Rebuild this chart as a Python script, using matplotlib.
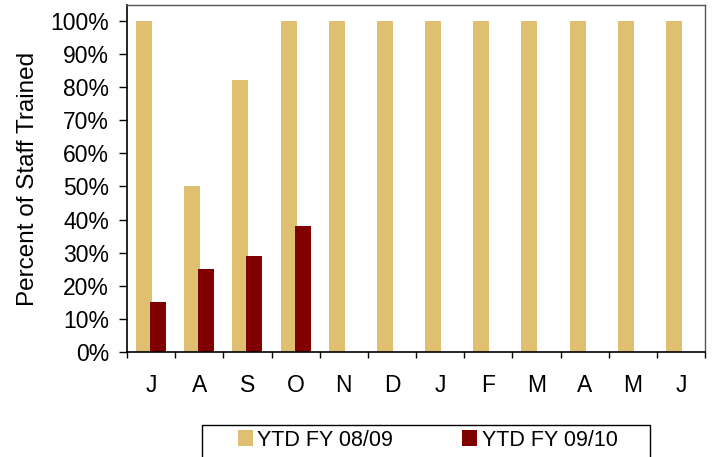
import numpy as np
import matplotlib
matplotlib.use('Agg')
import matplotlib.pyplot as plt
from matplotlib.patches import Rectangle
from matplotlib.ticker import FuncFormatter, FixedLocator

plt.rcParams['font.family'] = ['Liberation Sans', 'DejaVu Sans']

months = ['J', 'A', 'S', 'O', 'N', 'D', 'J', 'F', 'M', 'A', 'M', 'J']
fy0809 = [100, 50, 82, 100, 100, 100, 100, 100, 100, 100, 100, 100]
fy0910 = [15, 25, 29, 38]

gold = '#DEC070'
maroon = '#800000'

fig = plt.figure(figsize=(7.12, 4.57), dpi=100)
ax = fig.add_axes([127 / 712, 1 - 352 / 457, 578 / 712, 347 / 457])

x = np.arange(len(months))
w = 0.33
ax.bar(x - 0.145, np.array(fy0809) / 100, width=w, color=gold, label='YTD FY 08/09')
ax.bar(x[:len(fy0910)] + 0.145, np.array(fy0910) / 100, width=w, color=maroon,
       label='YTD FY 09/10')

ax.set_xlim(-0.5, len(months) - 0.5)
ax.set_ylim(0, 1.048)
ax.set_yticks(np.arange(0, 1.01, 0.1))
ax.yaxis.set_major_formatter(FuncFormatter(lambda v, p: '%d%%' % round(v * 100)))
ax.tick_params(axis='y', labelsize=16.5, length=6, width=1, direction='out', pad=7)

ax.set_xticks(x)
ax.set_xticklabels(months)
ax.tick_params(axis='x', which='major', length=0, labelsize=16.5, pad=16)
ax.xaxis.set_minor_locator(FixedLocator(np.arange(-0.5, len(months), 1.0)))
ax.tick_params(axis='x', which='minor', length=4, width=1, direction='out')

for s in ['left', 'bottom']:
    ax.spines[s].set_color('black')
    ax.spines[s].set_linewidth(1.2)
for s in ['top', 'right']:
    ax.spines[s].set_color('#555555')
    ax.spines[s].set_linewidth(1)

ax.set_ylabel('Percent of Staff Trained', fontsize=17.5, labelpad=8)

# legend box runs off the bottom of the picture
fig.patches.append(Rectangle((202 / 712, -0.05), 448 / 712, (457 - 425) / 457 + 0.05,
                             transform=fig.transFigure, facecolor='white',
                             edgecolor='black', linewidth=1))
leg = fig.legend(loc='center left', bbox_to_anchor=(238 / 712, 1 - 440 / 457),
                 ncol=2, fontsize=15.5, frameon=False, borderpad=0, borderaxespad=0,
                 handlelength=0.7, handleheight=0.7, handletextpad=0.2,
                 columnspacing=3.2)

fig.savefig('out.png', dpi=100)
plt.close('all')
